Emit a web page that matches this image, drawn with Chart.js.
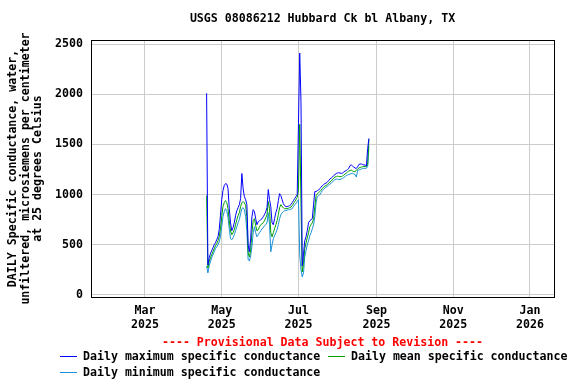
<!DOCTYPE html>
<html>
<head>
<meta charset="utf-8">
<style>
html,body{margin:0;padding:0;background:#fff;}
canvas{display:block;}
</style>
<script src="https://cdn.jsdelivr.net/npm/chart.js"></script>
</head>
<body>
<canvas id="c" width="576" height="384"></canvas>
<script>
// ---- data (daily values starting at startDate) ----
const startDate = '2025-04-19';
const maxVals = [
  2010, 300, 370, 410, 440, 470, 500, 520, 550, 580,
  650, 790, 950, 1040, 1090, 1110, 1105, 1060, 860, 720,
  640, 670, 720, 790, 840, 870, 900, 960, 1210, 1060,
  980, 950, 900, 500, 430, 560, 780, 850, 830, 760,
  700, 730, 740, 750, 760, 780, 800, 830, 870, 1050,
  950, 880, 720, 700, 760, 820, 860, 940, 1010, 990,
  950, 910, 890, 880, 880, 885, 890, 900, 920, 940,
  960, 980, 1000, 1710, 2410, 1925, 290, 410, 540, 580,
  640, 720, 740, 750, 760, 900, 1030, 1030, 1040, 1045,
  1060, 1075, 1090, 1100, 1110, 1115, 1125, 1140, 1155, 1165,
  1175, 1190, 1200, 1210, 1215, 1218, 1215, 1212, 1215, 1225,
  1235, 1240, 1250, 1262, 1290, 1295, 1285, 1275, 1265, 1260,
  1278, 1300, 1305, 1305, 1300, 1295, 1295, 1285, 1460, 1560
];
const meanVals = [
  990, 270, 330, 370, 400, 430, 460, 490, 510, 540,
  580, 660, 780, 880, 920, 940, 920, 860, 740, 640,
  600, 620, 650, 700, 750, 790, 820, 880, 920, 930,
  920, 890, 780, 420, 380, 450, 620, 740, 760, 690,
  640, 650, 680, 700, 710, 720, 740, 770, 800, 930,
  860, 620, 580, 620, 660, 700, 740, 800, 870, 900,
  880, 870, 860, 860, 860, 865, 870, 875, 890, 910,
  930, 950, 970, 1050, 1700, 900, 230, 320, 460, 520,
  570, 620, 680, 700, 720, 760, 880, 990, 1010, 1020,
  1030, 1045, 1060, 1075, 1085, 1090, 1100, 1115, 1125, 1135,
  1150, 1165, 1175, 1180, 1185, 1180, 1178, 1180, 1185, 1195,
  1205, 1215, 1225, 1235, 1240, 1245, 1235, 1228, 1230, 1240,
  1255, 1265, 1270, 1275, 1278, 1280, 1280, 1278, 1300, 1550
];
const minVals = [
  290, 220, 290, 330, 370, 400, 430, 460, 480, 500,
  530, 580, 680, 780, 830, 860, 840, 770, 660, 560,
  550, 570, 600, 640, 680, 720, 750, 810, 860, 870,
  850, 780, 640, 350, 340, 390, 480, 620, 680, 620,
  580, 600, 620, 640, 660, 670, 690, 700, 720, 820,
  700, 430, 500, 560, 590, 620, 650, 700, 760, 800,
  820, 830, 840, 840, 845, 850, 850, 855, 860, 880,
  900, 910, 930, 950, 400, 250, 180, 220, 380, 440,
  500, 540, 590, 620, 660, 700, 780, 920, 980, 990,
  1000, 1020, 1040, 1055, 1065, 1075, 1085, 1095, 1105, 1115,
  1125, 1140, 1150, 1155, 1155, 1150, 1152, 1155, 1160, 1170,
  1180, 1190, 1195, 1200, 1205, 1210, 1212, 1205, 1200, 1175,
  1240, 1245, 1250, 1255, 1260, 1262, 1262, 1262, 1280, 1480
];
const yTicks = [0, 500, 1000, 1500, 2000, 2500];
const xTickDates = ['2025-03-01', '2025-05-01', '2025-07-01', '2025-09-01', '2025-11-01', '2026-01-01'];
const xTickLabels = [['Mar','2025'], ['May','2025'], ['Jul','2025'], ['Sep','2025'], ['Nov','2025'], ['Jan','2026']];
const seriesNames = ['Daily maximum specific conductance', 'Daily mean specific conductance', 'Daily minimum specific conductance'];
const seriesColors = ['#0000ff', '#00a000', '#1a90d8'];
const titleText = 'USGS 08086212 Hubbard Ck bl Albany, TX';
const yTitle = ['DAILY Specific conductance, water,', 'unfiltered, microsiemens per centimeter', 'at 25 degrees Celsius'];
const provisional = '---- Provisional Data Subject to Revision ----';

// ---- helpers ----
const EPOCH = Date.parse('2025-01-01T00:00:00Z');
function dayNum(s) { return (Date.parse(s + 'T00:00:00Z') - EPOCH) / 86400000; }
const d0 = dayNum(startDate);
function pts(arr) { return arr.map((v, i) => ({x: d0 + i, y: v})); }
const xTickVals = xTickDates.map(dayNum);

const FONT = "'DejaVu Sans Mono', monospace";
const fontSpec = {family: FONT, size: 11.6, weight: 'bold', lineHeight: 1.2};

const framePlugin = {
  id: 'frameAndLegend',
  afterDatasetsDraw(chart) {
    const {ctx, chartArea: a} = chart;
    ctx.save();
    ctx.strokeStyle = '#000';
    ctx.lineWidth = 1;
    ctx.strokeRect(Math.round(a.left) + 0.5, Math.round(a.top) + 0.5,
                   Math.round(a.right - a.left), Math.round(a.bottom - a.top));
    ctx.restore();
  },
  afterDraw(chart) {
    const {ctx, chartArea: a} = chart;
    ctx.save();
    ctx.font = 'bold 11.6px ' + FONT;
    ctx.textBaseline = 'middle';
    ctx.textAlign = 'center';
    ctx.fillStyle = '#ff0000';
    ctx.fillText(provisional, (a.left + a.right) / 2, 342.5);
    const items = [
      {x: 60, y: 356.5, i: 0},
      {x: 328, y: 356.5, i: 1},
      {x: 60, y: 372.5, i: 2}
    ];
    ctx.textAlign = 'left';
    items.forEach(it => {
      ctx.strokeStyle = seriesColors[it.i];
      ctx.lineWidth = 1;
      ctx.beginPath();
      ctx.moveTo(it.x, it.y);
      ctx.lineTo(it.x + 17, it.y);
      ctx.stroke();
      ctx.fillStyle = '#000';
      ctx.fillText(seriesNames[it.i], it.x + 23, it.y);
    });
    ctx.restore();
  }
};

const datasets = [maxVals, meanVals, minVals].map((arr, i) => ({
  label: seriesNames[i],
  data: pts(arr),
  borderColor: seriesColors[i],
  backgroundColor: seriesColors[i],
  borderWidth: 1,
  pointRadius: 0,
  tension: 0,
  fill: false,
  order: i
}));

new Chart(document.getElementById('c'), {
  type: 'line',
  data: {datasets},
  plugins: [framePlugin],
  options: {
    responsive: false,
    animation: false,
    devicePixelRatio: 1,
    layout: {padding: {left: 0, right: 22, top: 0, bottom: 0}},
    plugins: {
      legend: {display: false},
      tooltip: {enabled: false},
      title: {
        display: true,
        text: titleText,
        color: '#000',
        font: fontSpec,
        fullSize: false,
        padding: {top: 12.5, bottom: 13.6}
      }
    },
    scales: {
      x: {
        type: 'linear',
        min: 16.1,
        max: 384.1,
        afterFit(axis) { axis.height = 87; },
        afterBuildTicks(axis) { axis.ticks = xTickVals.map(v => ({value: v})); },
        grid: {color: '#cccccc', lineWidth: 1, drawTicks: false},
        border: {display: false},
        ticks: {
          color: '#000',
          font: fontSpec,
          padding: 7,
          maxRotation: 0,
          autoSkip: false,
          callback(value) {
            const idx = xTickVals.indexOf(value);
            return idx >= 0 ? xTickLabels[idx] : '';
          }
        }
      },
      y: {
        type: 'linear',
        min: -20,
        max: 2540,
        afterFit(axis) { axis.width = 91; },
        afterBuildTicks(axis) { axis.ticks = yTicks.map(v => ({value: v})); },
        grid: {color: '#cccccc', lineWidth: 1, drawTicks: false},
        border: {display: false},
        ticks: {
          color: '#000',
          font: fontSpec,
          padding: 8,
          callback(value) { return String(value); }
        },
        title: {
          display: true,
          text: yTitle,
          color: '#000',
          font: {family: FONT, size: 11.6, weight: 'bold', lineHeight: 1.08},
          padding: {top: 6.7, bottom: 0}
        }
      }
    }
  }
});
</script>
</body>
</html>
